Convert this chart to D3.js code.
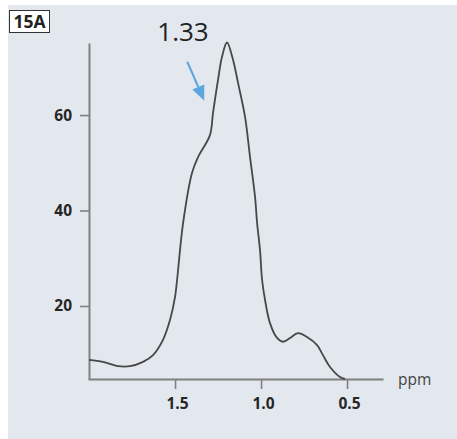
<!DOCTYPE html>
<html><head><meta charset="utf-8">
<script src="https://cdn.jsdelivr.net/npm/d3@7"></script>
<style>
html,body{margin:0;padding:0;background:#fff;}
svg{display:block;}
text{font-family:"Open Sans",sans-serif;}
</style></head>
<body>
<script>
// ---- data ----
const ppm = [2.0, 1.919, 1.831, 1.762, 1.686, 1.628, 1.570, 1.529, 1.500, 1.488, 1.453, 1.401, 1.366, 1.297, 1.279, 1.250, 1.227, 1.198, 1.163, 1.134, 1.093, 1.064, 1.035, 1.023, 1.006, 0.994, 0.977, 0.948, 0.907, 0.872, 0.831, 0.785, 0.733, 0.674, 0.640, 0.599, 0.541, 0.512];
const intensity = [8.7, 8.3, 7.4, 7.4, 8.3, 9.7, 12.9, 17.1, 21.9, 25.5, 37.4, 47.9, 51.2, 55.8, 60.5, 67.4, 72.2, 75.2, 71.6, 66.8, 59.6, 51.2, 42.9, 37.4, 31.7, 25.5, 21.3, 16.4, 13.3, 12.5, 13.3, 14.3, 13.5, 11.8, 9.7, 7.2, 5.1, 4.7];
const xTicks = [1.5, 1.0, 0.5];
const xTickLabels = ["1.5", "1.0", "0.5"];
const yTicks = [20, 40, 60];
const xDomain = [2.006, 0.291];
const yDomain = [4.7, 75.1];
const annotPpm = 1.33, annotValue = 63, annotLabel = "1.33";
const panelLabel = "15A", xUnit = "ppm";

const W = 457, H = 439;
const svg = d3.select("body").append("svg").attr("width", W).attr("height", H);
svg.append("rect").attr("x", 8).attr("y", 5).attr("width", W - 8).attr("height", H - 5).attr("fill", "#e3e8ee");

const x = d3.scaleLinear().domain(xDomain).range([88, 383]);
const y = d3.scaleLinear().domain(yDomain).range([379, 43]);

const axisColor = "#808080";
// y axis
const gy = svg.append("g").attr("transform", "translate(89,0)")
  .call(d3.axisLeft(y).tickValues(yTicks).tickSize(9).tickSizeOuter(0).tickPadding(8));
// x axis
const gx = svg.append("g").attr("transform", "translate(0,379)")
  .call(d3.axisBottom(x).tickValues(xTicks).tickFormat((d, i) => xTickLabels[i]).tickSize(10).tickSizeOuter(0).tickPadding(9));
[gx, gy].forEach(g => {
  g.select(".domain").attr("stroke", axisColor).attr("stroke-width", 2);
  g.selectAll(".tick line").attr("stroke", axisColor).attr("stroke-width", 1.6);
  g.selectAll(".tick text").attr("fill", "#262626").attr("font-size", 15.5).attr("font-weight", "bold")
    .attr("font-family", "'Open Sans',sans-serif");
});
gx.selectAll(".tick text").attr("dx", 2);

svg.append("text").attr("x", 398).attr("y", 385).attr("font-size", 15.5).attr("fill", "#444").text(xUnit);

// curve
const pts = ppm.map((p, i) => [p, intensity[i]]);
svg.append("path").datum(pts)
  .attr("fill", "none").attr("stroke", "#474747").attr("stroke-width", 1.8)
  .attr("d", d3.line().x(d => x(d[0])).y(d => y(d[1])).curve(d3.curveCatmullRom.alpha(0.5)));

// annotation arrow
const tx = x(annotPpm), ty = y(annotValue);
const sx = tx - 17, sy = ty - 39;
const len = Math.hypot(tx - sx, ty - sy), ux = (tx - sx) / len, uy = (ty - sy) / len;
const hl = 15, hw = 6.5;
const bx = tx - ux * hl, by = ty - uy * hl;
const arrowColor = "#5ba6de";
svg.append("line").attr("x1", sx).attr("y1", sy).attr("x2", bx).attr("y2", by)
  .attr("stroke", arrowColor).attr("stroke-width", 2);
svg.append("path").attr("fill", arrowColor)
  .attr("d", `M${tx},${ty}L${bx - uy * hw},${by + ux * hw}L${bx + uy * hw},${by - ux * hw}Z`);
svg.append("text").attr("x", tx - 47).attr("y", 41).attr("font-size", 26).attr("fill", "#222").text(annotLabel);

// panel label box
svg.append("rect").attr("x", 9.5).attr("y", 10.5).attr("width", 40).attr("height", 22)
  .attr("fill", "#fff").attr("stroke", "#333").attr("stroke-width", 1);
svg.append("text").attr("x", 29.5).attr("y", 28).attr("text-anchor", "middle")
  .attr("font-size", 17.5).attr("font-weight", "bold").attr("fill", "#222").text(panelLabel);
</script>
</body></html>
